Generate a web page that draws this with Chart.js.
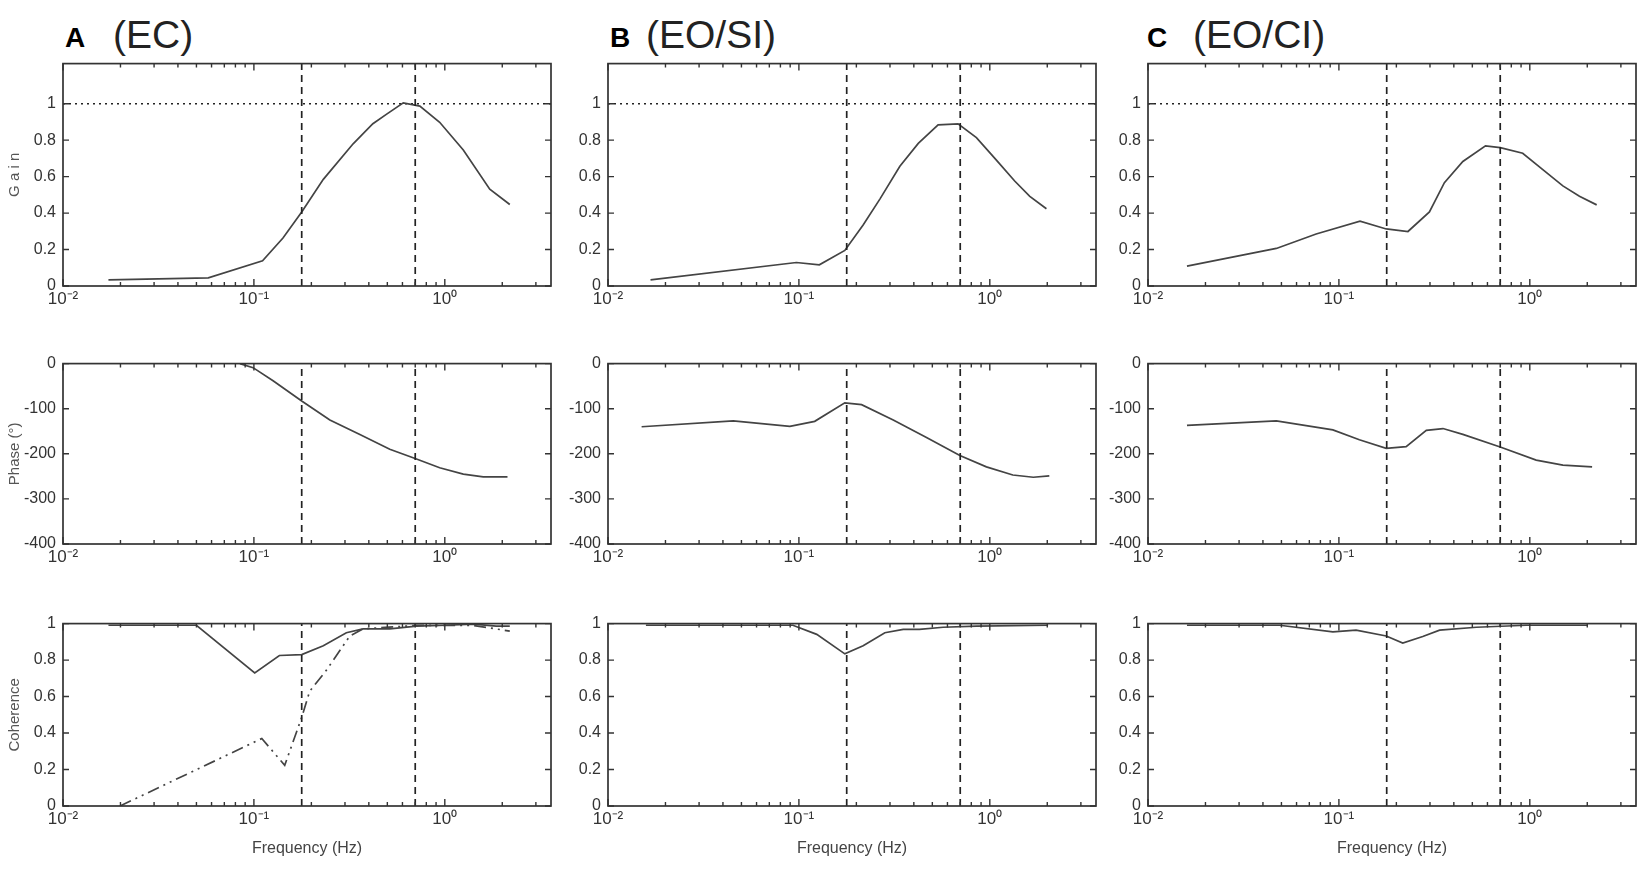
<!DOCTYPE html>
<html>
<head>
<meta charset="utf-8">
<script src="https://cdn.jsdelivr.net/npm/chart.js@4.4.0/dist/chart.umd.min.js"></script>
<style>
  body { margin: 0; background: #fff; }
  #page { position: relative; width: 1650px; height: 870px; overflow: hidden; font-family: "Liberation Sans", Arial, sans-serif; }
  canvas { position: absolute; }
  .lbl { position: absolute; line-height: 1; white-space: nowrap; }
  .letter { font-size: 28px; font-weight: bold; color: #000; }
  .cond { font-size: 39px; color: #222; }
</style>
</head>
<body>
<div id="page">
  <div class="lbl letter" style="left:65px;top:24px">A</div>
  <div class="lbl cond" style="left:113px;top:15px">(EC)</div>
  <div class="lbl letter" style="left:610px;top:24px">B</div>
  <div class="lbl cond" style="left:646px;top:15px">(EO/SI)</div>
  <div class="lbl letter" style="left:1147px;top:24px">C</div>
  <div class="lbl cond" style="left:1193px;top:15px">(EO/CI)</div>
</div>
<script>
// frequency axis ticks (Hz)
const decadeTicks = [0.01, 0.1, 1];
const decadeLabels = ["10⁻²", "10⁻¹", "10⁰"];
const minorTicks = [0.02, 0.03, 0.04, 0.05, 0.06, 0.07, 0.08, 0.09,
                    0.2, 0.3, 0.4, 0.5, 0.6, 0.7, 0.8, 0.9, 2, 3];
const gainTicks = [0, 0.2, 0.4, 0.6, 0.8, 1];
const phaseTicks = [-400, -300, -200, -100, 0];
const cohTicks = [0, 0.2, 0.4, 0.6, 0.8, 1];

// dashed reference frequencies
const markerFreqs = [0.178, 0.7];

// Gain
const gainFreqA = [0.0173, 0.0577, 0.111, 0.142, 0.178, 0.231, 0.331, 0.42, 0.496, 0.606, 0.74, 0.94, 1.25, 1.72, 2.19];
const gainA     = [0.034, 0.045, 0.138, 0.263, 0.406, 0.585, 0.78, 0.89, 0.943, 1.005, 0.987, 0.898, 0.746, 0.531, 0.447];
const gainFreqB = [0.0167, 0.097, 0.128, 0.174, 0.217, 0.266, 0.338, 0.422, 0.536, 0.682, 0.851, 1.08, 1.35, 1.62, 1.98];
const gainB     = [0.034, 0.129, 0.116, 0.195, 0.335, 0.478, 0.657, 0.782, 0.884, 0.889, 0.814, 0.692, 0.576, 0.492, 0.424];
const gainFreqC = [0.016, 0.047, 0.076, 0.129, 0.177, 0.23, 0.298, 0.357, 0.446, 0.586, 0.70, 0.918, 1.17, 1.49, 1.82, 2.24];
const gainC     = [0.109, 0.206, 0.285, 0.356, 0.313, 0.299, 0.406, 0.567, 0.683, 0.769, 0.759, 0.728, 0.638, 0.549, 0.492, 0.445];

// Phase (deg)
const phaseFreqA = [0.0845, 0.099, 0.126, 0.178, 0.25, 0.359, 0.515, 0.705, 0.94, 1.25, 1.59, 2.13];
const phaseA     = [0, -9, -38, -83, -125, -157, -190, -211, -231, -245, -251, -251];
const phaseFreqB = [0.015, 0.0453, 0.0897, 0.121, 0.174, 0.213, 0.312, 0.466, 0.697, 0.96, 1.32, 1.69, 2.05];
const phaseB     = [-140, -127, -139, -128, -87, -91, -125, -164, -204, -229, -247, -252, -249];
const phaseFreqC = [0.016, 0.047, 0.093, 0.128, 0.177, 0.225, 0.287, 0.351, 0.446, 0.70, 1.08, 1.49, 2.12];
const phaseC     = [-137, -127, -147, -169, -188, -184, -148, -144, -157, -185, -214, -225, -229];

// Coherence
const cohFreqA  = [0.0173, 0.050, 0.101, 0.136, 0.178, 0.231, 0.305, 0.373, 0.515, 0.711, 1.02, 1.41, 1.86, 2.19];
const cohA      = [0.991, 0.991, 0.730, 0.825, 0.830, 0.879, 0.950, 0.971, 0.971, 0.986, 0.991, 0.997, 0.986, 0.986];
const cohFreqA2 = [0.0199, 0.11, 0.145, 0.178, 0.196, 0.24, 0.318, 0.373, 0.711, 1.41, 2.19];
const cohA2     = [0, 0.37, 0.223, 0.486, 0.629, 0.745, 0.932, 0.971, 0.99, 0.99, 0.959];
const cohFreqB  = [0.0158, 0.093, 0.124, 0.174, 0.217, 0.282, 0.352, 0.428, 0.569, 0.851, 2.02];
const cohB      = [0.991, 0.991, 0.941, 0.834, 0.879, 0.950, 0.968, 0.968, 0.980, 0.986, 0.991];
const cohFreqC  = [0.016, 0.049, 0.093, 0.123, 0.177, 0.216, 0.275, 0.337, 0.525, 0.957, 2.01];
const cohC      = [0.991, 0.991, 0.955, 0.964, 0.932, 0.893, 0.929, 0.964, 0.980, 0.991, 0.991];

const FONT = "'Liberation Sans', Arial, sans-serif";
const X_MIN = 0.01, X_MAX = 3.6;
const colLeft = [63, 608, 1148];
const plotW = 488;
const rows = {
  gain:  { top: 59,  h: 227, min: 0,    max: 1.22, ticks: gainTicks,  title: "G a i n" },
  phase: { top: 359, h: 185, min: -400, max: 0,    ticks: phaseTicks, title: "Phase (°)" },
  coh:   { top: 619, h: 187, min: 0,    max: 1,    ticks: cohTicks,   title: "Coherence" }
};

// MATLAB-like box with inward ticks on all four sides
const boxPlugin = {
  id: "box",
  afterDatasetsDraw(chart) {
    const { ctx, chartArea: a, scales: { x, y } } = chart;
    ctx.save();
    ctx.strokeStyle = "#333";
    ctx.lineWidth = 1.7;
    ctx.strokeRect(a.left, a.top, a.right - a.left, a.bottom - a.top);
    ctx.lineWidth = 1.4;
    ctx.beginPath();
    x.ticks.forEach(t => {
      const px = x.getPixelForValue(t.value);
      const len = decadeTicks.includes(t.value) ? 7 : 4;
      ctx.moveTo(px, a.bottom); ctx.lineTo(px, a.bottom - len);
      ctx.moveTo(px, a.top); ctx.lineTo(px, a.top + len);
    });
    y.ticks.forEach(t => {
      const py = y.getPixelForValue(t.value);
      ctx.moveTo(a.left, py); ctx.lineTo(a.left + 6, py);
      ctx.moveTo(a.right, py); ctx.lineTo(a.right - 6, py);
    });
    ctx.stroke();
    ctx.restore();
  }
};

function line(fs, vs, extra) {
  return Object.assign({
    data: fs.map((f, i) => ({ x: f, y: vs[i] })),
    showLine: true, borderColor: "#444", borderWidth: 1.7,
    pointRadius: 0, fill: false
  }, extra || {});
}

function markers(row) {
  return markerFreqs.map(f => line([f, f], [row.min, row.max],
    { borderColor: "#222", borderWidth: 1.7, borderDash: [7, 5] }));
}

function makePanel(col, rowKey, series) {
  const row = rows[rowKey];
  const L = col === 0 ? 63 : 55, T = 12, R = 5;
  const B = rowKey === "coh" ? 58 : 32;
  const cv = document.createElement("canvas");
  cv.width = L + plotW + R;
  cv.height = T + row.h + B;
  cv.style.left = (colLeft[col] - L) + "px";
  cv.style.top = (row.top - T) + "px";
  document.getElementById("page").appendChild(cv);

  const datasets = markers(row).concat(series);
  if (rowKey === "gain") {
    datasets.push(line([X_MIN, X_MAX], [1, 1], { borderColor: "#222", borderWidth: 1.5, borderDash: [2, 4] }));
  }

  new Chart(cv.getContext("2d"), {
    type: "scatter",
    data: { datasets },
    options: {
      responsive: false,
      animation: false,
      layout: { padding: { top: T, right: R, left: 0, bottom: 0 } },
      plugins: { legend: { display: false }, tooltip: { enabled: false } },
      scales: {
        x: {
          type: "logarithmic", min: X_MIN, max: X_MAX,
          afterBuildTicks: s => { s.ticks = decadeTicks.concat(minorTicks).sort((a, b) => a - b).map(v => ({ value: v })); },
          afterFit: s => { s.height = B; },
          grid: { display: false, drawTicks: false },
          border: { display: false },
          ticks: {
            autoSkip: false, maxRotation: 0, padding: 3, color: "#333",
            font: { family: FONT, size: 17 },
            callback: v => { const i = decadeTicks.indexOf(v); return i >= 0 ? decadeLabels[i] : ""; }
          },
          title: {
            display: rowKey === "coh", text: "Frequency (Hz)", color: "#444",
            font: { family: FONT, size: 16 }, padding: { top: 0, bottom: 6 }
          }
        },
        y: {
          type: "linear", min: row.min, max: row.max,
          afterBuildTicks: s => { s.ticks = row.ticks.map(v => ({ value: v })); },
          afterFit: s => { s.width = L; },
          grid: { display: false, drawTicks: false },
          border: { display: false },
          ticks: { padding: 7, color: "#333", font: { family: FONT, size: 16 }, callback: v => String(v) },
          title: {
            display: col === 0, text: row.title, color: "#555",
            font: { family: FONT, size: 15 }, padding: { top: 6, bottom: 0 }
          }
        }
      }
    },
    plugins: [boxPlugin]
  });
}

makePanel(0, "gain", [line(gainFreqA, gainA)]);
makePanel(1, "gain", [line(gainFreqB, gainB)]);
makePanel(2, "gain", [line(gainFreqC, gainC)]);
makePanel(0, "phase", [line(phaseFreqA, phaseA)]);
makePanel(1, "phase", [line(phaseFreqB, phaseB)]);
makePanel(2, "phase", [line(phaseFreqC, phaseC)]);
makePanel(0, "coh", [line(cohFreqA, cohA), line(cohFreqA2, cohA2, { borderDash: [12, 5, 2, 5, 2, 5] })]);
makePanel(1, "coh", [line(cohFreqB, cohB)]);
makePanel(2, "coh", [line(cohFreqC, cohC)]);
</script>
</body>
</html>
